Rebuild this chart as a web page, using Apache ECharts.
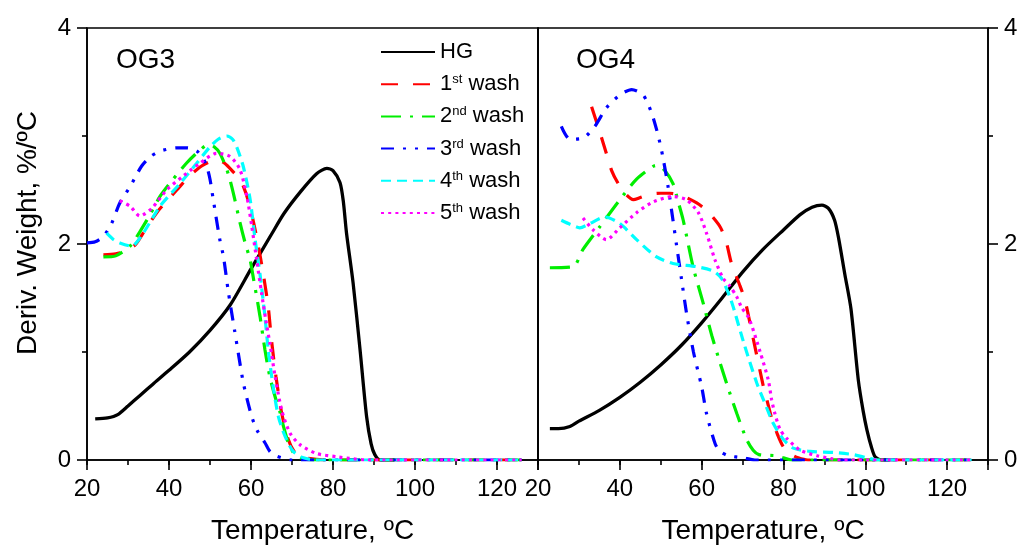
<!DOCTYPE html>
<html>
<head>
<meta charset="utf-8">
<script src="https://cdn.jsdelivr.net/npm/echarts@6/dist/echarts.min.js"></script>
<style>html,body{margin:0;padding:0;background:#fff;}#c{width:1018px;height:545px;}</style>
</head>
<body>
<div id="c"></div>
<script>
// ---- data (Temperature °C, Deriv. Weight %/°C) ----
var seriesNames = ['HG', '1st wash', '2nd wash', '3rd wash', '4th wash', '5th wash'];
var panelLabels = ['OG3', 'OG4'];
var xTickLabels = [20, 40, 60, 80, 100, 120];
var yTickLabels = [0, 2, 4];

var og3HG = [[22,0.38],[25,0.39],[27.5,0.42],[30,0.5],[33,0.6],[36,0.7],[40,0.83],[45,1.0],[50,1.2],[55,1.44],[60,1.77],[65,2.09],[68,2.28],[72,2.48],[76,2.65],[78.5,2.70],[80,2.68],[81.7,2.57],[82.5,2.4],[83.3,2.1],[84.9,1.64],[86.6,1.02],[88.2,0.4],[89.3,0.15],[90.2,0.05],[91.5,0],[95,0]];
var og3W1 = [[24,1.90],[27,1.91],[29,1.93],[31.7,1.99],[34,2.12],[37,2.29],[39.5,2.40],[41.9,2.50],[45,2.63],[48.3,2.73],[51.6,2.78],[53.5,2.75],[55.6,2.67],[57.6,2.58],[59.5,2.38],[61.4,2.06],[63,1.72],[64.2,1.42],[65,1.11],[66.1,0.77],[67.5,0.43],[69.1,0.19],[70.5,0.08],[72,0.03],[75,0.01],[78,0],[126,0]];
var og3W2 = [[24,1.88],[27,1.89],[30.5,1.98],[33,2.12],[35.5,2.28],[37.8,2.44],[41,2.6],[44.3,2.75],[47,2.85],[49.6,2.92],[51,2.9],[52.4,2.84],[54,2.7],[54.9,2.59],[56,2.42],[57.3,2.2],[58.5,2.02],[59.8,1.85],[60.6,1.68],[62.2,1.33],[63.4,1.02],[64.6,0.77],[66,0.57],[67.1,0.44],[68,0.3],[69.1,0.16],[70.5,0.06],[72,0.02],[75,0],[126,0]];
var og3W3 = [[20,2.01],[22,2.02],[24,2.07],[26,2.19],[28,2.38],[30.5,2.53],[33.3,2.72],[35.5,2.81],[37.8,2.86],[41.9,2.89],[44.5,2.89],[46.8,2.86],[48.2,2.8],[49.2,2.72],[50,2.6],[50.8,2.41],[52.4,2.04],[53.3,1.88],[54.5,1.55],[56,1.2],[58,0.74],[59,0.57],[60.2,0.40],[61.4,0.28],[63.4,0.16],[64.6,0.08],[66,0.04],[67.5,0.02],[70,0],[126,0]];
var og3W4 = [[24.8,2.10],[26.5,2.04],[28,2.01],[30.9,1.98],[33.7,2.10],[37.8,2.35],[42.7,2.56],[46.8,2.75],[50,2.90],[52,2.97],[54.1,3.00],[55.5,2.97],[56.5,2.90],[58.1,2.72],[59.8,2.41],[61,2.04],[62.2,1.72],[63.4,1.33],[64.2,1.02],[65.4,0.68],[66.7,0.40],[68.3,0.22],[70.3,0.08],[72.8,0.02],[76,0],[126,0]];
var og3W5 = [[28,2.40],[30.5,2.35],[32.9,2.26],[35.8,2.33],[39.4,2.50],[43.5,2.63],[47.6,2.75],[51.6,2.84],[54.9,2.81],[57.3,2.69],[59,2.44],[60.2,2.16],[61.4,1.85],[62.6,1.54],[63.6,1.3],[64.6,1.08],[65.9,0.77],[67.5,0.46],[69.5,0.25],[72,0.14],[76,0.06],[80.9,0.03],[85,0.01],[88,0],[126,0]];

var og4HG = [[22.9,0.29],[25,0.29],[27.8,0.31],[30,0.36],[35,0.46],[40,0.58],[45,0.72],[50,0.88],[55,1.06],[60,1.27],[65,1.5],[70,1.74],[75,1.95],[80,2.13],[84,2.27],[87,2.34],[89.4,2.36],[91,2.33],[92.5,2.22],[93.5,2.05],[95,1.72],[96.5,1.4],[98.3,0.74],[99.5,0.45],[100.4,0.28],[101.5,0.12],[102.4,0.03],[104,0],[106,0]];
var og4W1 = [[33.1,3.27],[35,3.05],[36.7,2.84],[38,2.68],[39.6,2.56],[41.5,2.46],[43.3,2.41],[45,2.43],[47.3,2.46],[50,2.47],[52.2,2.47],[55,2.45],[58.8,2.38],[61.5,2.3],[64.5,2.16],[66,2.02],[67.3,1.82],[69.4,1.61],[70.6,1.48],[72.3,1.18],[75.1,0.68],[76,0.55],[77.1,0.39],[78.4,0.25],[80,0.12],[82,0.05],[83.6,0.02],[86,0],[126,0]];
var og4W2 = [[22.9,1.78],[28.6,1.79],[31,1.95],[35.1,2.16],[40,2.41],[44.1,2.60],[48.2,2.72],[49.4,2.73],[51,2.68],[53,2.56],[54.2,2.4],[55.5,2.22],[57.9,1.79],[60.4,1.45],[62.5,1.15],[64.5,0.9],[66.1,0.71],[68.6,0.43],[71,0.19],[72.6,0.09],[74,0.05],[78,0.04],[80,0.02],[82,0],[126,0]];
var og4W3 = [[25.7,3.09],[27.8,2.97],[31,2.98],[33.9,3.09],[36.7,3.26],[40,3.38],[42.9,3.43],[45.7,3.38],[47.8,3.21],[49.4,3.0],[50.5,2.81],[51.8,2.53],[53,2.22],[53.9,1.98],[55.1,1.67],[56.3,1.36],[58,1.0],[60,0.68],[61.2,0.43],[63.3,0.15],[64.5,0.08],[66.5,0.04],[70.2,0.02],[73,0],[126,0]];
var og4W4 = [[25.7,2.22],[28,2.18],[30.2,2.15],[32.7,2.19],[36.3,2.25],[40,2.19],[44.1,2.04],[49,1.88],[53,1.82],[58.8,1.79],[62.8,1.75],[64.9,1.68],[66.9,1.51],[67.7,1.42],[70.5,1.06],[73.5,0.71],[75.1,0.56],[77.5,0.34],[80,0.19],[82.4,0.11],[86.5,0.08],[92.2,0.07],[97.1,0.05],[100.4,0.02],[103,0],[126,0]];
var og4W5 = [[31,2.24],[33.5,2.13],[36.7,2.04],[40,2.15],[44.1,2.29],[48.2,2.39],[53,2.44],[56.3,2.41],[59.2,2.29],[61.2,2.10],[63.3,1.85],[65.3,1.68],[66.9,1.61],[68.6,1.51],[69.8,1.41],[71.6,1.31],[74.3,1.0],[76.3,0.74],[77.1,0.56],[77.9,0.43],[79.2,0.28],[80.8,0.2],[84.1,0.09],[88.2,0.04],[92,0.01],[94,0],[126,0]];

var panelData = [
  [og3HG, og3W1, og3W2, og3W3, og3W4, og3W5],
  [og4HG, og4W1, og4W2, og4W3, og4W4, og4W5]
];

// ---- styles ----
var FONT = "'Liberation Sans', Arial, sans-serif";
var colors = ['#000000', '#ff0000', '#00ee00', '#0000ff', '#00ffff', '#ff00ff'];
var dashes = ['solid', [17, 15], [20, 9, 3, 9], [13, 9, 3, 9, 3, 9], [10, 6], [3, 4.2]];
var widths = [3.3, 3.2, 3.2, 3.2, 3.2, 3.2];

var chart = echarts.init(document.getElementById('c'), null, {renderer: 'canvas'});

var grids = [
  {left: 87, top: 28, width: 451, height: 432, show: true, borderColor: '#000', borderWidth: 1.6, backgroundColor: 'transparent', containLabel: false, outerBoundsMode: 'none'},
  {left: 538, top: 28, width: 450, height: 432, show: true, borderColor: '#000', borderWidth: 1.6, backgroundColor: 'transparent', containLabel: false, outerBoundsMode: 'none'}
];

function mainX(gi) {
  return {
    type: 'value', gridIndex: gi, min: 20, max: 130, interval: 20,
    name: 'Temperature, \u00baC', nameLocation: 'middle', nameGap: 57,
    nameTextStyle: {fontSize: 28, fontFamily: FONT, color: '#000'},
    axisLine: {show: true, onZero: false, lineStyle: {color: '#000', width: 1.6}},
    axisTick: {show: true, length: 10, lineStyle: {color: '#000', width: 1.6}},
    axisLabel: {show: true, margin: 17, fontSize: 24, fontFamily: FONT, color: '#000',
      formatter: function (v) { return xTickLabels.indexOf(v) >= 0 ? String(v) : ''; }},
    splitLine: {show: false}
  };
}
function minorX(gi) {
  return {
    type: 'value', gridIndex: gi, min: 20, max: 130, interval: 10, position: 'bottom',
    axisLine: {show: false}, axisTick: {show: true, length: 5, lineStyle: {color: '#000', width: 1.6}},
    axisLabel: {show: false}, splitLine: {show: false}
  };
}
function yAx(gi, pos, labels) {
  return {
    type: 'value', gridIndex: gi, min: 0, max: 4, interval: 2, position: pos,
    axisLine: {show: true, onZero: false, lineStyle: {color: '#000', width: 1.6}},
    axisTick: {show: labels, length: 10, lineStyle: {color: '#000', width: 1.6}},
    minorTick: {show: labels, splitNumber: 2, length: 5, lineStyle: {color: '#000', width: 1.6}},
    axisLabel: {show: labels, margin: 16, fontSize: 24, fontFamily: FONT, color: '#000',
      formatter: function (v) { return yTickLabels.indexOf(v) >= 0 ? String(v) : ''; }},
    splitLine: {show: false}
  };
}

var yAxes = [yAx(0, 'left', true), yAx(1, 'right', true), yAx(1, 'left', false)];
yAxes[0].name = 'Deriv. Weight, %/\u00baC';
yAxes[0].nameLocation = 'middle';
yAxes[0].nameGap = 45;
yAxes[0].nameTextStyle = {fontSize: 28, fontFamily: FONT, color: '#000', padding: [0, 0, 0, 22]};

var series = [];
for (var p = 0; p < 2; p++) {
  for (var s = 0; s < seriesNames.length; s++) {
    series.push({
      type: 'line', name: seriesNames[s],
      xAxisIndex: p === 0 ? 0 : 2, yAxisIndex: p === 0 ? 0 : 1,
      data: panelData[p][s], symbol: 'none', smooth: 0.25,
      lineStyle: {color: colors[s], width: widths[s], type: dashes[s]},
      itemStyle: {color: colors[s]},
      z: 2 + s
    });
  }
}

var supMap = {'HG': 'HG', '1st wash': '1{s|st} wash', '2nd wash': '2{s|nd} wash', '3rd wash': '3{s|rd} wash', '4th wash': '4{s|th} wash', '5th wash': '5{s|th} wash'};

chart.setOption({
  animation: false,
  backgroundColor: '#fff',
  title: [
    {text: panelLabels[0], left: 116, top: 46, padding: 0, textStyle: {fontSize: 28, fontWeight: 'normal', fontFamily: FONT, color: '#000'}},
    {text: panelLabels[1], left: 576, top: 46, padding: 0, textStyle: {fontSize: 28, fontWeight: 'normal', fontFamily: FONT, color: '#000'}}
  ],
  grid: grids,
  xAxis: [mainX(0), minorX(0), mainX(1), minorX(1)],
  yAxis: yAxes,
  legend: {
    data: seriesNames, orient: 'vertical', left: 380, top: 41, padding: 0,
    itemWidth: 54, itemHeight: 14, itemGap: 10.2, selectedMode: false,
    itemStyle: {color: 'transparent', borderColor: 'transparent', borderWidth: 0, opacity: 0},
    formatter: function (n) { return supMap[n]; },
    textStyle: {fontSize: 22, fontFamily: FONT, color: '#000', lineHeight: 22,
      rich: {s: {fontSize: 13, fontFamily: FONT, color: '#000', verticalAlign: 'top', lineHeight: 13}}}
  },
  series: series
});
</script>
</body>
</html>
